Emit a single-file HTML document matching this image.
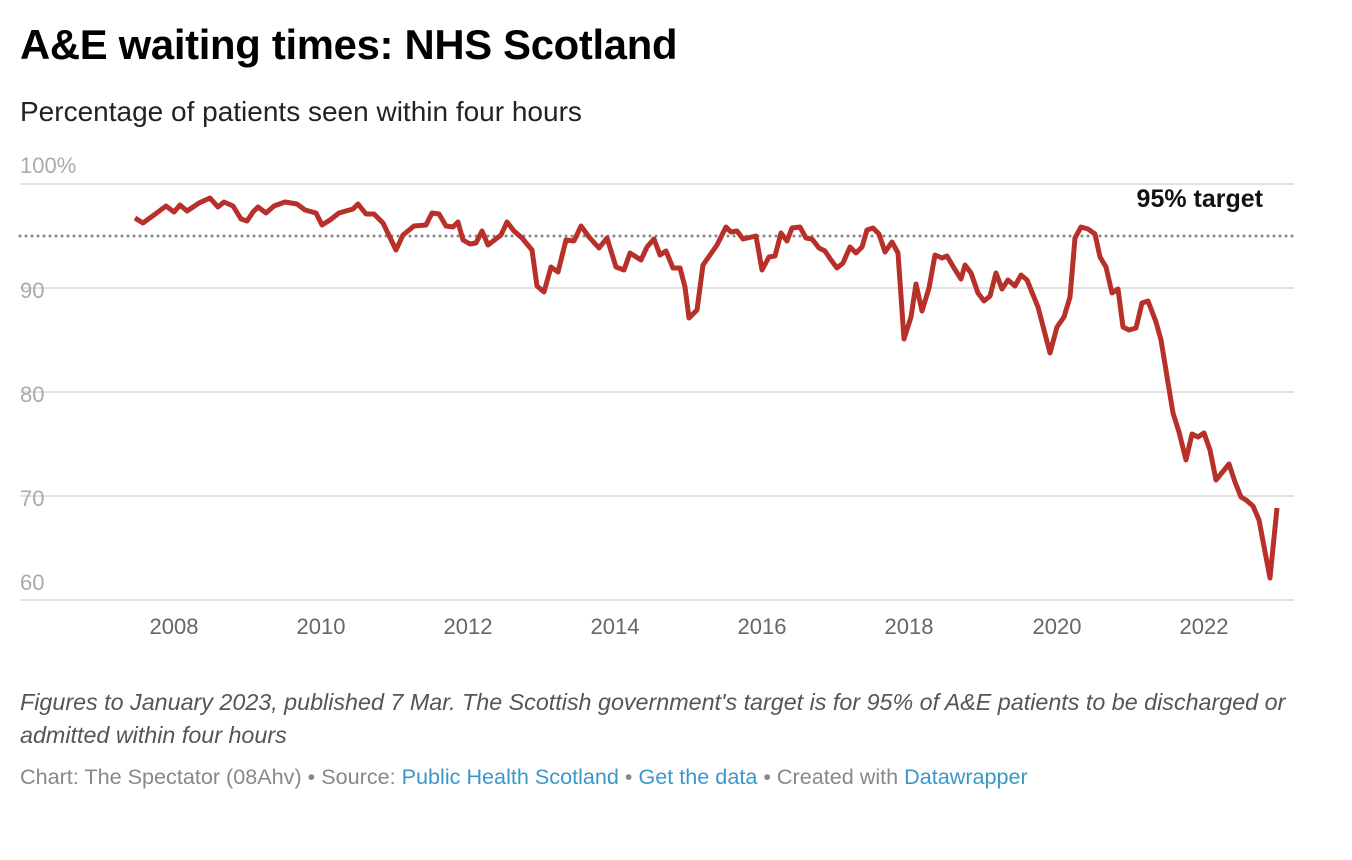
<!DOCTYPE html>
<html><head><meta charset="utf-8"><style>
body{margin:0;background:#fff;width:1352px;height:860px;overflow:hidden;font-family:"Liberation Sans",Arial,sans-serif;}
.t{position:absolute;left:20px;top:21px;font-size:41.8px;font-weight:bold;color:#000;letter-spacing:-0.3px}
.s{position:absolute;left:20px;top:96px;font-size:28px;color:#222}
.n{position:absolute;left:20px;top:686px;font-size:23.3px;font-style:italic;color:#555;line-height:33px;width:1290px}
.c{position:absolute;left:20px;top:764px;font-size:21.6px;color:#888}
.c a{color:#3b97c8;text-decoration:none}
</style></head><body>
<div class="t">A&amp;E waiting times: NHS Scotland</div>
<div class="s">Percentage of patients seen within four hours</div>
<svg width="1352" height="860" style="position:absolute;left:0;top:0">
<g stroke="#e2e2e2" stroke-width="2">
<line x1="20" x2="1294" y1="184" y2="184"/><line x1="20" x2="1294" y1="288" y2="288"/><line x1="20" x2="1294" y1="392" y2="392"/><line x1="20" x2="1294" y1="496" y2="496"/><line x1="20" x2="1294" y1="600" y2="600"/>
</g>
<g font-size="22" fill="#aaa" font-family="Liberation Sans, sans-serif">
<text x="20" y="173">100%</text><text x="20" y="298">90</text><text x="20" y="402">80</text><text x="20" y="506">70</text><text x="20" y="590">60</text>
</g>
<g font-size="22" fill="#666" text-anchor="middle" font-family="Liberation Sans, sans-serif">
<text x="174" y="634">2008</text><text x="321" y="634">2010</text><text x="468" y="634">2012</text><text x="615" y="634">2014</text><text x="762" y="634">2016</text><text x="909" y="634">2018</text><text x="1057" y="634">2020</text><text x="1204" y="634">2022</text>
</g>
<line x1="20" x2="1294" y1="236" y2="236" stroke="#888" stroke-width="3" stroke-dasharray="0 6" stroke-linecap="round"/>
<text x="1263" y="207" text-anchor="end" font-size="25" font-weight="bold" fill="#111">95% target</text>
<polyline fill="none" stroke="#b8302a" stroke-width="5" stroke-linejoin="round" points="135,218 143,223 158,212 166,206 174,212 180,205 187,211 199,203 210,198 218,207 224,202 233,206 241,219 247,221 253,212 258,207 266,213 274,206 285,202 297,204 305,210 316,213 322,225 330,220 339,213 353,209 358,204 366,214 374,214 383,223 396,250 403,235 414,226 426,225 432,213 439,214 446,226 453,227 458,222 463,240 470,244 476,243 482,231 488,245 501,235 507,222 514,231 522,238 532,250 537,286 544,292 551,267 558,272 566,240 574,241 581,226 589,237 599,248 607,238 616,267 624,270 630,253 641,260 647,247 654,239 660,255 666,251 673,268 680,268 685,287 689,318 697,310 703,265 717,245 726,227 731,232 737,231 743,239 756,236 762,270 769,257 775,256 781,233 787,241 792,228 800,227 806,238 812,239 819,248 825,251 831,260 837,268 843,263 850,247 856,253 862,247 867,230 873,228 879,234 885,252 892,242 898,253 904,339 911,317 916,284 922,311 929,288 935,255 942,258 947,256 954,268 961,279 965,265 971,273 978,293 984,301 990,296 996,273 1002,289 1008,280 1015,286 1021,275 1027,280 1038,307 1050,353 1057,327 1064,317 1070,297 1075,238 1081,227 1088,229 1095,234 1100,257 1106,267 1112,293 1118,289 1123,327 1129,330 1136,328 1142,303 1148,301 1156,322 1161,340 1173,413 1179,432 1186,460 1192,434 1198,437 1204,433 1210,450 1216,480 1229,464 1235,482 1241,497 1246,500 1253,506 1259,520 1270,578 1277,508"/>
</svg>
<div class="n">Figures to January 2023, published 7 Mar. The Scottish government's target is for 95% of A&amp;E patients to be discharged or admitted within four hours</div>
<div class="c">Chart: The Spectator (08Ahv) • Source: <a>Public Health Scotland</a> • <a>Get the data</a> • Created with <a>Datawrapper</a></div>
</body></html>
